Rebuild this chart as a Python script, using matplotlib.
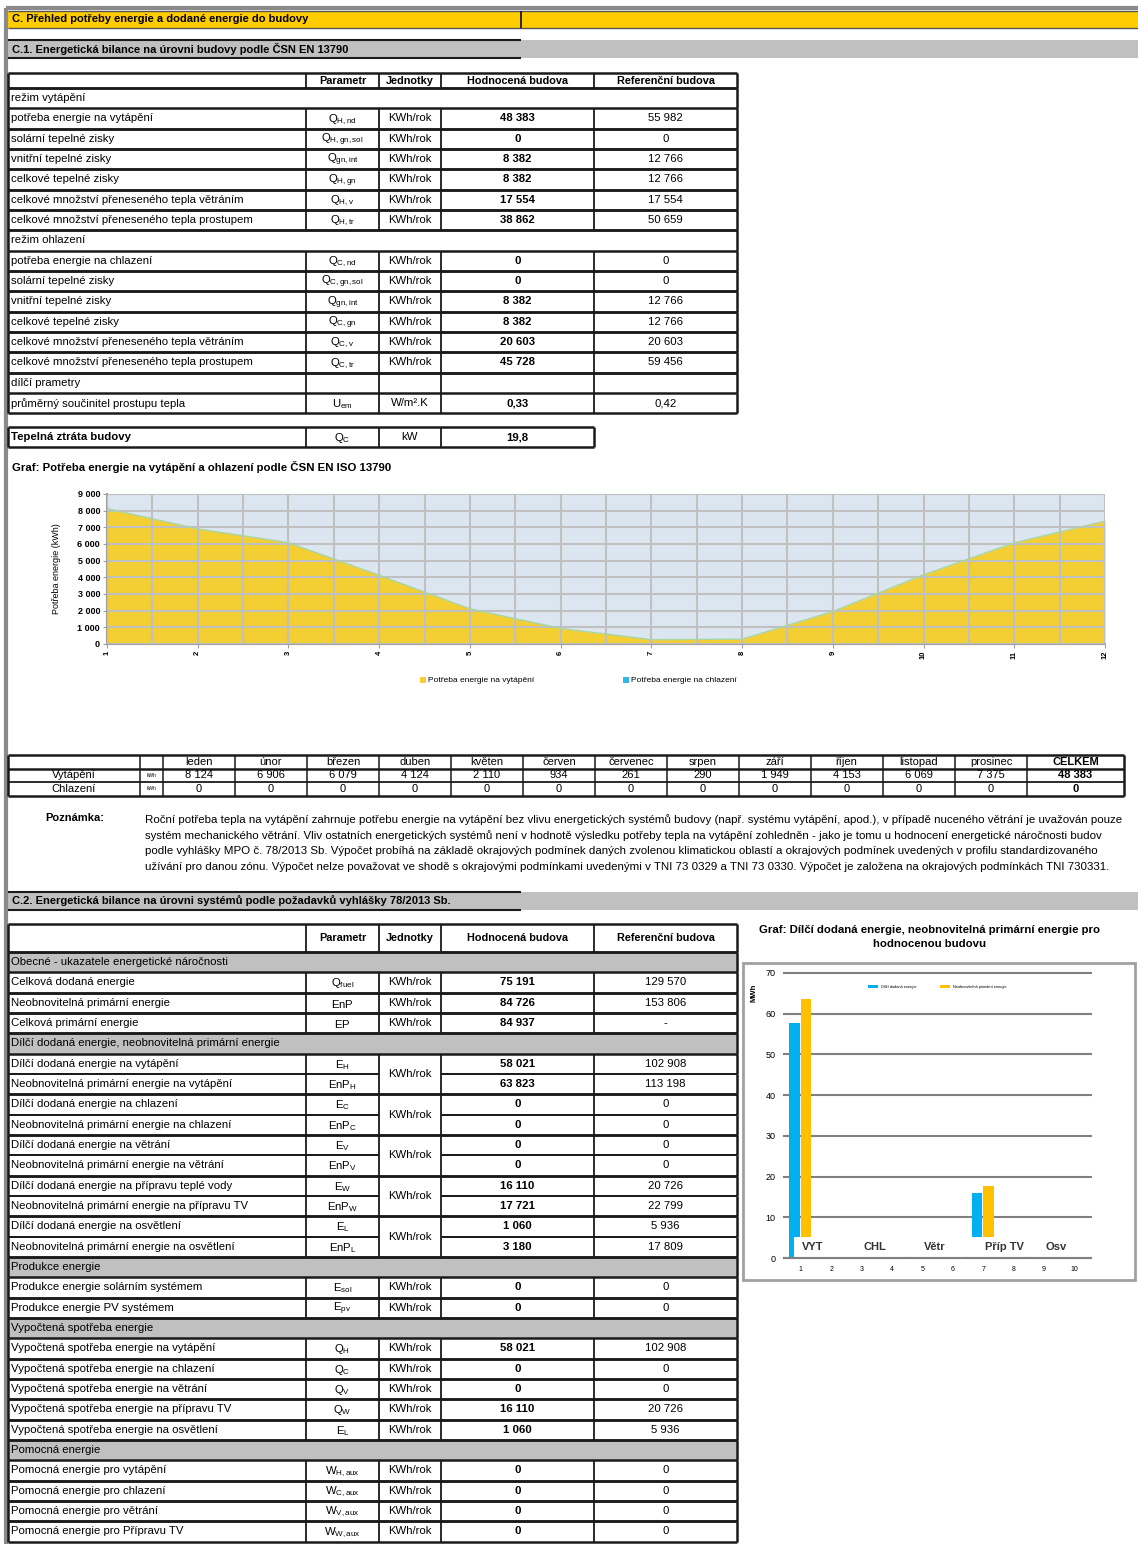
import matplotlib
matplotlib.use('Agg')
import matplotlib.pyplot as plt
from matplotlib.patches import Rectangle

plt.rcParams['font.family'] = ['Liberation Sans', 'DejaVu Sans']
plt.rcParams['mathtext.fontset'] = 'custom'
plt.rcParams['mathtext.rm'] = 'Liberation Sans'
plt.rcParams['mathtext.it'] = 'Liberation Sans:italic'
plt.rcParams['mathtext.bf'] = 'Liberation Sans:bold'

# ---------- data ----------
head_cols = ['Parametr', 'Jednotky', 'Hodnocená budova', 'Referenční budova']

vyt_labels = ['potřeba energie na vytápění', 'solární tepelné zisky', 'vnitřní tepelné zisky',
              'celkové tepelné zisky', 'celkové množství přeneseného tepla větráním',
              'celkové množství přeneseného tepla prostupem']
vyt_params = ['Q_{H,nd}', 'Q_{H,gn,sol}', 'Q_{gn,int}', 'Q_{H,gn}', 'Q_{H,v}', 'Q_{H,tr}']
vyt_hodn = [48383, 0, 8382, 8382, 17554, 38862]
vyt_ref = [55982, 0, 12766, 12766, 17554, 50659]

chl_labels = ['potřeba energie na chlazení', 'solární tepelné zisky', 'vnitřní tepelné zisky',
              'celkové tepelné zisky', 'celkové množství přeneseného tepla větráním',
              'celkové množství přeneseného tepla prostupem']
chl_params = ['Q_{C,nd}', 'Q_{C,gn,sol}', 'Q_{gn,int}', 'Q_{C,gn}', 'Q_{C,v}', 'Q_{C,tr}']
chl_hodn = [0, 0, 8382, 8382, 20603, 45728]
chl_ref = [0, 0, 12766, 12766, 20603, 59456]

u_em = [0.33, 0.42]
ztrata = 19.8

months = ['leden', 'únor', 'březen', 'duben', 'květen', 'červen', 'červenec', 'srpen',
          'září', 'říjen', 'listopad', 'prosinec']
vyt_month = [8124, 6906, 6079, 4124, 2110, 934, 261, 290, 1949, 4153, 6069, 7375]
chl_month = [0, 0, 0, 0, 0, 0, 0, 0, 0, 0, 0, 0]
vyt_total = 48383
chl_total = 0

note_lines = [
    'Roční potřeba tepla na vytápění zahrnuje potřebu energie na vytápění bez vlivu energetických systémů budovy (např. systému vytápění, apod.), v případě nuceného větrání je uvažován pouze',
    'systém mechanického větrání. Vliv ostatních energetických systémů není v hodnotě výsledku potřeby tepla na vytápění zohledněn - jako je tomu u hodnocení energetické náročnosti budov',
    'podle vyhlášky MPO č. 78/2013 Sb. Výpočet probíhá na základě okrajových podmínek daných zvolenou klimatickou oblastí a okrajových podmínek uvedených v profilu standardizovaného',
    'užívání pro danou zónu. Výpočet nelze považovat ve shodě s okrajovými podmínkami uvedenými v TNI 73 0329 a TNI 73 0330. Výpočet je založena na okrajových podmínkách TNI 730331.',
]

obecne_labels = ['Celková dodaná energie', 'Neobnovitelná primární energie', 'Celková primární energie']
obecne_params = ['Q_{fuel}', 'EnP', 'EP']
obecne_hodn = [75191, 84726, 84937]
obecne_ref = [129570, 153806, None]

dilci_labels = ['Dílčí dodaná energie na vytápění', 'Neobnovitelná primární energie na vytápění',
                'Dílčí dodaná energie na chlazení', 'Neobnovitelná primární energie na chlazení',
                'Dílčí dodaná energie na větrání', 'Neobnovitelná primární energie na větrání',
                'Dílčí dodaná energie na přípravu teplé vody', 'Neobnovitelná primární energie na přípravu TV',
                'Dílčí dodaná energie na osvětlení', 'Neobnovitelná primární energie na osvětlení']
dilci_params = ['E_{H}', 'EnP_{H}', 'E_{C}', 'EnP_{C}', 'E_{V}', 'EnP_{V}', 'E_{W}', 'EnP_{W}', 'E_{L}', 'EnP_{L}']
dilci_hodn = [58021, 63823, 0, 0, 0, 0, 16110, 17721, 1060, 3180]
dilci_ref = [102908, 113198, 0, 0, 0, 0, 20726, 22799, 5936, 17809]

prod_labels = ['Produkce energie solárním systémem', 'Produkce energie PV systémem']
prod_params = ['E_{sol}', 'E_{pv}']
prod_hodn = [0, 0]
prod_ref = [0, 0]

vypo_labels = ['Vypočtená spotřeba energie na vytápění', 'Vypočtená spotřeba energie na chlazení',
               'Vypočtená spotřeba energie na větrání', 'Vypočtená spotřeba energie na přípravu TV',
               'Vypočtená spotřeba energie na osvětlení']
vypo_params = ['Q_{H}', 'Q_{C}', 'Q_{V}', 'Q_{W}', 'E_{L}']
vypo_hodn = [58021, 0, 0, 16110, 1060]
vypo_ref = [102908, 0, 0, 20726, 5936]

pom_labels = ['Pomocná energie pro vytápění', 'Pomocná energie pro chlazení',
              'Pomocná energie pro větrání', 'Pomocná energie pro Přípravu TV']
pom_params = ['W_{H,aux}', 'W_{C,aux}', 'W_{V,aux}', 'W_{W,aux}']
pom_hodn = [0, 0, 0, 0]
pom_ref = [0, 0, 0, 0]

bar_cats = ['VYT', 'CHL', 'Větr', 'Příp TV', 'Osv']
bar_dodana = [57.8, 0, 0, 15.9, 1.1]
bar_enp = [63.7, 0, 0, 17.6, 3.2]

# ---------- page ----------
W, H = 1138, 1544
fig = plt.figure(figsize=(W / 100, H / 100), dpi=100)
bg = fig.add_axes([0, 0, 1, 1])
bg.set_xlim(0, W)
bg.set_ylim(H, 0)
bg.axis('off')

FS = 8.2
BLACK = '#1a1a1a'
GRAY = '#c0c0c0'


def fmt(v):
    if v is None:
        return '-'
    if isinstance(v, float):
        return ('%.2f' % v).replace('.', ',') if v < 1 else ('%.1f' % v).replace('.', ',')
    return '{:,}'.format(v).replace(',', ' ')


def hl(x0, x1, y, lw=1.3, c=BLACK):
    bg.plot([x0, x1], [y, y], color=c, lw=lw, solid_capstyle='butt')


def vl(x, y0, y1, lw=1.3, c=BLACK):
    bg.plot([x, x], [y0, y1], color=c, lw=lw, solid_capstyle='butt')


def px_ax(x0, y0, x1, y1):
    return fig.add_axes([x0 / W, 1 - y1 / H, (x1 - x0) / W, (y1 - y0) / H])


# page frame
vl(6, 8, H, lw=3, c='#8a8a8a')
hl(6, W, 8, lw=3, c='#8a8a8a')

# yellow header
bg.add_patch(Rectangle((8, 11), W - 8, 17, color='#ffcc00', lw=0))
hl(8, W, 11, lw=1, c='#555555')
hl(8, W, 28, lw=1, c='#555555')
vl(521, 11, 28, lw=1.3)
bg.text(12, 19.5, 'C. Přehled potřeby energie a dodané energie do budovy', fontsize=8,
        fontweight='bold', va='center')


def gray_bar(y0, y1, text):
    bg.add_patch(Rectangle((8, y0), W - 8, y1 - y0, color=GRAY, lw=0))
    hl(8, 521, y0, lw=1.5)
    hl(8, 521, y1, lw=1.5)
    bg.text(12, (y0 + y1) / 2, text, fontsize=8, fontweight='bold', va='center')


gray_bar(40, 58, 'C.1. Energetická bilance na úrovni budovy podle ČSN EN 13790')

C = [8, 306, 379, 441, 594, 737]
RH = 20.33


def header(y0, y1):
    hl(C[0], C[-1], y0, lw=1.8)
    hl(C[0], C[-1], y1, lw=1.8)
    for x in C:
        vl(x, y0, y1, lw=1.8 if x in (C[0], C[-1]) else 1.3)
    for i, t in enumerate(head_cols):
        bg.text((C[i + 1] + C[i + 2]) / 2, (y0 + y1) / 2, t, fontsize=FS - 0.4, fontweight='bold',
                ha='center', va='center')


def section(y, text, fill=None, dividers=False):
    if fill:
        bg.add_patch(Rectangle((C[0], y), C[-1] - C[0], RH, color=fill, lw=0))
    hl(C[0], C[-1], y, lw=1.8)
    vl(C[0], y, y + RH, lw=1.8)
    vl(C[-1], y, y + RH, lw=1.8)
    if dividers:
        for x in C[1:-1]:
            vl(x, y, y + RH)
    bg.text(C[0] + 3, y + RH / 2, text, fontsize=FS, va='center')
    return y + RH


def rows(y, labels, params, hodn, ref, unit='KWh/rok', merged=False):
    for i in range(len(labels)):
        y0, y1 = y + i * RH, y + (i + 1) * RH
        if merged and i % 2 == 1:
            hl(C[0], C[2], y0)
            hl(C[3], C[-1], y0)
        else:
            hl(C[0], C[-1], y0, lw=1.8)
        if merged and i % 2 == 0:
            hl(C[0], C[2], y1)
            hl(C[3], C[-1], y1)
        else:
            hl(C[0], C[-1], y1, lw=1.8)
        for x in C:
            vl(x, y0, y1, lw=1.8 if x in (C[0], C[-1]) else 1.3)
        yc = (y0 + y1) / 2
        bg.text(C[0] + 3, yc, labels[i], fontsize=FS, va='center')
        bg.text((C[1] + C[2]) / 2, yc + 1, r'$\mathrm{' + params[i] + '}$', fontsize=FS,
                ha='center', va='center')
        if not merged:
            bg.text((C[2] + C[3]) / 2, yc, unit, fontsize=FS, ha='center', va='center')
        elif i % 2 == 0:
            bg.text((C[2] + C[3]) / 2, y1, unit, fontsize=FS, ha='center', va='center')
        bg.text((C[3] + C[4]) / 2, yc, fmt(hodn[i]), fontsize=FS, fontweight='bold',
                ha='center', va='center')
        bg.text((C[4] + C[5]) / 2, yc, fmt(ref[i]), fontsize=FS, ha='center', va='center')
    return y + len(labels) * RH


# ---------- table 1 ----------
header(73, 88)
y = 88
y = section(y, 'režim vytápění')
y = rows(y, vyt_labels, vyt_params, vyt_hodn, vyt_ref)
y = section(y, 'režim ohlazení')
y = rows(y, chl_labels, chl_params, chl_hodn, chl_ref)
y = section(y, 'dílčí prametry', dividers=True)
y = rows(y, ['průměrný součinitel prostupu tepla'], ['U_{em}'], [u_em[0]], [u_em[1]], unit='W/m².K')

# tepelna ztrata
y0, y1 = 427, 447
hl(C[0], C[4], y0, lw=1.8)
hl(C[0], C[4], y1, lw=1.8)
for x in C[:5]:
    vl(x, y0, y1, lw=1.8 if x in (C[0], C[4]) else 1.3)
bg.text(C[0] + 3, (y0 + y1) / 2, 'Tepelná ztráta budovy', fontsize=FS, fontweight='bold', va='center')
bg.text((C[1] + C[2]) / 2, (y0 + y1) / 2 + 1, r'$\mathrm{Q_{C}}$', fontsize=FS, ha='center', va='center')
bg.text((C[2] + C[3]) / 2, (y0 + y1) / 2, 'kW', fontsize=FS, ha='center', va='center')
bg.text((C[3] + C[4]) / 2, (y0 + y1) / 2, fmt(ztrata), fontsize=FS, fontweight='bold',
        ha='center', va='center')

# ---------- chart 1 ----------
bg.text(12, 467, 'Graf: Potřeba energie na vytápění a ohlazení podle ČSN EN ISO 13790',
        fontsize=8.2, fontweight='bold', va='center')
ax1 = px_ax(107, 494, 1105, 644)
mx = list(range(1, 13))
ax1.set_facecolor('#dce6f1')
ax1.fill_between(mx, vyt_month, color='#f3cf33', lw=0, zorder=2)
ax1.plot(mx, [a + b for a, b in zip(vyt_month, chl_month)], color='#a8d5a0', lw=1, zorder=3)
ax1.set_xlim(1, 12)
ax1.set_ylim(0, 9000)
ax1.set_yticks(range(0, 9001, 1000))
ax1.set_yticklabels([fmt(v) for v in range(0, 9001, 1000)], fontsize=6.5, fontweight='bold')
ax1.set_xticks(mx)
ax1.set_xticklabels([str(m) for m in mx], fontsize=5.5, rotation=90, fontweight='bold')
ax1.set_xticks([m + 0.5 for m in mx[:-1]], minor=True)
ax1.grid(True, which='both', color='#c0c0c0', lw=1.5, zorder=1)
ax1.set_axisbelow(False)
for s in ['top', 'right']:
    ax1.spines[s].set_visible(False)
for s in ['left', 'bottom']:
    ax1.spines[s].set_color('#a0a0a0')
    ax1.spines[s].set_linewidth(1.5)
ax1.tick_params(length=3, color='#a0a0a0', pad=2, which='major')
ax1.tick_params(which='minor', length=0)
ax1.set_ylabel('Potřeba energie (kWh)', fontsize=6.5, labelpad=12)
for g in ax1.get_xgridlines() + ax1.get_ygridlines():
    g.set_zorder(2.5)

# legend chart 1
bg.add_patch(Rectangle((420, 677), 6, 6, color='#f3cf33', lw=0))
bg.text(428, 680, 'Potřeba energie na vytápění', fontsize=6, va='center')
bg.add_patch(Rectangle((623, 677), 6, 6, color='#33b5e5', lw=0))
bg.text(631, 680, 'Potřeba energie na chlazení', fontsize=6, va='center')

# ---------- monthly table ----------
M = [8, 140, 163] + [163 + 72 * (i + 1) for i in range(12)] + [1124]
ty = [755, 769, 782, 796]
for yy in ty:
    hl(M[0], M[-1], yy, lw=1.8 if yy in (755, 769, 796) else 1.3)
for x in M:
    vl(x, ty[0], ty[-1], lw=1.8 if x in (M[0], M[-1]) else 1.1)
for i, mname in enumerate(months + ['CELKEM']):
    bg.text((M[i + 2] + M[i + 3]) / 2, (ty[0] + ty[1]) / 2, mname, fontsize=8,
            ha='center', va='center', fontweight='bold' if mname == 'CELKEM' else 'normal')
for r, (lab, vals, tot) in enumerate([('Vytápění', vyt_month, vyt_total),
                                       ('Chlazení', chl_month, chl_total)]):
    yc = (ty[r + 1] + ty[r + 2]) / 2
    bg.text((M[0] + M[1]) / 2, yc, lab, fontsize=8, ha='center', va='center')
    bg.text((M[1] + M[2]) / 2, yc, 'kWh', fontsize=3.5, ha='center', va='center')
    for i, v in enumerate(vals + [tot]):
        bg.text((M[i + 2] + M[i + 3]) / 2, yc, fmt(v), fontsize=8, ha='center', va='center',
                fontweight='bold' if i == 12 else 'normal')

# note
bg.text(45, 818, 'Poznámka:', fontsize=8, fontweight='bold', va='center')
for i, line in enumerate(note_lines):
    bg.text(145, 820 + i * 15.5, line, fontsize=8.25, va='center')

# ---------- section C.2 ----------
gray_bar(892, 910, 'C.2. Energetická bilance na úrovni systémů podle požadavků vyhlášky 78/2013 Sb.')

header(924, 952)
y = 952
y = section(y, 'Obecné - ukazatele energetické náročnosti', fill=GRAY)
y = rows(y, obecne_labels, obecne_params, obecne_hodn, obecne_ref)
y = section(y, 'Dílčí dodaná energie, neobnovitelná primární energie', fill=GRAY)
y = rows(y, dilci_labels, dilci_params, dilci_hodn, dilci_ref, merged=True)
y = section(y, 'Produkce energie', fill=GRAY)
y = rows(y, prod_labels, prod_params, prod_hodn, prod_ref)
y = section(y, 'Vypočtená spotřeba energie', fill=GRAY)
y = rows(y, vypo_labels, vypo_params, vypo_hodn, vypo_ref)
y = section(y, 'Pomocná energie', fill=GRAY)
y = rows(y, pom_labels, pom_params, pom_hodn, pom_ref)

# ---------- chart 2 ----------
bg.text(930, 930, 'Graf: Dílčí dodaná energie, neobnovitelná primární energie pro',
        fontsize=8.2, fontweight='bold', ha='center', va='center')
bg.text(930, 944, 'hodnocenou budovu', fontsize=8.2, fontweight='bold', ha='center', va='center')
bg.add_patch(Rectangle((743, 963), 392, 317, fill=False, ec='#a0a0a0', lw=2))

ax2 = px_ax(784, 973, 1091, 1258)
pos = [1 + 2 * i for i in range(len(bar_cats))]
ax2.bar([p - 0.2 for p in pos], bar_dodana, width=0.34, color='#00b0f0', zorder=2,
        label='Dílčí dodaná energie')
ax2.bar([p + 0.18 for p in pos], bar_enp, width=0.34, color='#ffc000', zorder=2,
        label='Neobnovitelná primární energie')
# category label boxes sit over the bar feet, as in the exported sheet
for k, (p, cat) in enumerate(zip(pos, bar_cats)):
    left = p - 0.22 if k == 0 else p - 0.42
    ax2.add_patch(Rectangle((left, 0), 1.8, 5.2, color='white', zorder=3, lw=0))
    ax2.text(p + 0.05, 2.6, cat, fontsize=8, fontweight='bold', color='#333333',
             va='center', ha='left', zorder=4)
ax2.set_xlim(0.45, 10.55)
ax2.set_ylim(0, 70)
ax2.set_yticks(range(0, 71, 10))
ax2.set_yticklabels([str(v) for v in range(0, 71, 10)], fontsize=6.5)
ax2.set_xticks(range(1, 11))
ax2.set_xticklabels([str(v) for v in range(1, 11)], fontsize=5)
ax2.yaxis.grid(True, color='#808080', lw=1.5, zorder=1)
for g in ax2.get_ygridlines():
    g.set_clip_on(False)
ax2.set_axisbelow(True)
for s in ['top', 'right', 'left']:
    ax2.spines[s].set_visible(False)
ax2.spines['bottom'].set_color('#808080')
ax2.spines['bottom'].set_linewidth(1.5)
ax2.spines['bottom'].set_zorder(5)
ax2.tick_params(length=0, pad=6)
ax2.set_ylabel('MWh', fontsize=5.5, fontweight='bold', labelpad=4)
ax2.yaxis.set_label_coords(-0.085, 0.93)
ax2.legend(loc='upper center', bbox_to_anchor=(0.5, 0.97), ncol=2, fontsize=2.8, frameon=False,
           handlelength=2.5, handleheight=0.6, columnspacing=6)

fig.savefig('out.png', dpi=100)
